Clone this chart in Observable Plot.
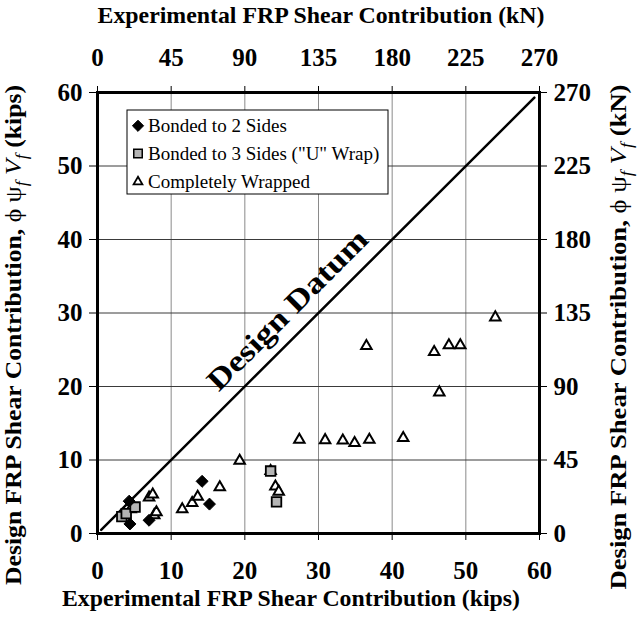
<!DOCTYPE html>
<html>
<head>
<meta charset="utf-8">
<script src="https://cdn.jsdelivr.net/npm/d3@7"></script>
<script src="https://cdn.jsdelivr.net/npm/@observablehq/plot@0.6"></script>
<style>
  body { margin: 0; background: white; }
  #chart svg { display: block; }
</style>
</head>
<body>
<div id="chart"></div>
<script>
// Tick labels
const kipTicks = [0, 10, 20, 30, 40, 50, 60];
const kNTicks = [0, 45, 90, 135, 180, 225, 270];

// Series: experimental (kips) vs design (kips)
const twoSidesExp    = [4.3, 4.4, 7.0, 14.2, 15.2];
const twoSidesDesign = [4.4, 1.3, 1.8, 7.1, 4.0];

const uWrapExp    = [3.3, 3.9, 5.1, 23.5, 24.3];
const uWrapDesign = [2.3, 2.7, 3.6, 8.5, 4.3];

const wrappedExp    = [4.5, 7.0, 7.5, 7.7, 8.0, 11.5, 12.85, 13.6, 16.6, 19.3, 23.5, 24.15, 24.6, 27.4, 30.9, 33.3, 34.9, 36.9, 41.5, 36.5, 45.7, 47.7, 49.25, 46.4, 54.0];
const wrappedDesign = [3.3, 4.9, 5.3, 2.5, 2.9, 3.3, 4.15, 5.0, 6.3, 9.9, 8.5, 6.4, 5.7, 12.75, 12.7, 12.65, 12.3, 12.75, 13.0, 25.5, 24.7, 25.6, 25.6, 19.2, 29.4];

const datumExp = [0.5, 59.3];
const datumLabel = ["Design Datum"];
const datumLabelPos = [25.8, 30.4];

const legendLabels = ["Bonded to 2 Sides", "Bonded to 3 Sides (\"U\" Wrap)", "Completely Wrapped"];

const toRows = (xs, ys) => xs.map((x, i) => ({x, y: ys[i]}));
const twoSides = toRows(twoSidesExp, twoSidesDesign);
const uWrap = toRows(uWrapExp, uWrapDesign);
const wrapped = toRows(wrappedExp, wrappedDesign);
const datum = toRows(datumExp, datumExp);

const serif = "'Liberation Serif', 'Times New Roman', serif";
const inner = kipTicks.slice(1, -1);

const svg = Plot.plot({
  width: 642,
  height: 618,
  marginLeft: 97,
  marginRight: 103,
  marginTop: 92,
  marginBottom: 85,
  style: {fontFamily: serif, background: "white", color: "black"},
  x: {domain: [0, 60], label: null},
  y: {domain: [0, 60], label: null},
  marks: [
    Plot.gridX(inner, {stroke: "#8a8a8a", strokeOpacity: 1, strokeWidth: 1}),
    Plot.gridY(inner, {stroke: "#3a3a3a", strokeOpacity: 1, strokeWidth: 1}),
    Plot.axisX(kipTicks, {anchor: "bottom", tickSize: 7, tickPadding: 21, fontSize: 25, fontWeight: "bold", label: null, strokeWidth: 1}),
    Plot.axisX(kipTicks, {anchor: "top", tickSize: 7, tickPadding: 20, fontSize: 25, fontWeight: "bold", label: null, strokeWidth: 1,
      tickFormat: (d) => String(kNTicks[kipTicks.indexOf(d)])}),
    Plot.axisY(kipTicks, {anchor: "left", tickSize: 8, tickPadding: 7, fontSize: 25, fontWeight: "bold", label: null, strokeWidth: 1}),
    Plot.axisY(kipTicks, {anchor: "right", tickSize: 7, tickPadding: 7, fontSize: 25, fontWeight: "bold", label: null, strokeWidth: 1,
      tickFormat: (d) => String(kNTicks[kipTicks.indexOf(d)])}),
    Plot.line(datum, {x: "x", y: "y", stroke: "black", strokeWidth: 2.5}),
    Plot.text(datumLabel, {x: () => datumLabelPos[0], y: () => datumLabelPos[1], text: d => d, rotate: -45,
      fontSize: 30, fontWeight: "bold", fill: "black", className: "datum-label"}),
    Plot.dot(wrapped, {x: "x", y: "y", symbol: "triangle2", r: 5, fill: "white", stroke: "black", strokeWidth: 2}),
    Plot.dot(uWrap, {x: "x", y: "y", symbol: "square", r: 5.4, fill: "#b5b5b5", stroke: "black", strokeWidth: 1.8}),
    Plot.dot(twoSides, {x: "x", y: "y", symbol: "diamond2", r: 5.4, fill: "black", stroke: "black", strokeWidth: 1}),
    Plot.frame({stroke: "black", strokeWidth: 3})
  ]
});

const s = d3.select(svg);
s.selectAll(".datum-label text").attr("textLength", 214).attr("lengthAdjust", "spacingAndGlyphs");

// Axis titles
function addTitle(x, y, rotate, len, parts) {
  const t = s.append("text")
    .attr("transform", `translate(${x},${y})` + (rotate ? ` rotate(${rotate})` : ""))
    .attr("text-anchor", "middle")
    .attr("font-family", serif)
    .attr("font-size", 23)
    .attr("font-weight", "bold")
    .attr("fill", "black")
    .attr("textLength", len)
    .attr("lengthAdjust", "spacingAndGlyphs");
  for (const p of parts) {
    const ts = t.append("tspan").text(p.t);
    if (p.w) ts.attr("font-weight", p.w);
    if (p.i) ts.attr("font-style", "italic");
    if (p.sub) ts.attr("font-size", 16).attr("dy", 6);
    if (p.up) ts.attr("dy", -6);
  }
  return t;
}
const yParts = (unit) => [
  {t: "Design FRP Shear Contribution, "},
  {t: "\u03D5 \u03C8", w: "normal"},
  {t: "f", w: "normal", i: true, sub: true},
  {t: " V", w: "normal", i: true, up: true},
  {t: "f", w: "normal", i: true, sub: true},
  {t: " (" + unit + ")", up: true}
];
addTitle(291, 606, 0, 458, [{t: "Experimental FRP Shear Contribution (kips)"}]);
addTitle(321, 23, 0, 447, [{t: "Experimental FRP Shear Contribution (kN)"}]);
addTitle(21, 335, -90, 500, yParts("kips"));
addTitle(626, 337, -90, 505, yParts("kN"));

// Legend
const lg = s.append("g");
lg.append("rect").attr("x", 127).attr("y", 110).attr("width", 261).attr("height", 84)
  .attr("fill", "white").attr("stroke", "black").attr("stroke-width", 1);
const legendSymbols = [
  {sym: d3.symbolDiamond2, size: 80, fill: "black", stroke: "black", sw: 1},
  {sym: d3.symbolSquare, size: 72, fill: "#b5b5b5", stroke: "black", sw: 1.5},
  {sym: d3.symbolTriangle2, size: 55, fill: "white", stroke: "black", sw: 1.8}
];
const legendBaselines = [132.3, 160, 188.3];
legendLabels.forEach((label, i) => {
  const base = legendBaselines[i];
  const sym = legendSymbols[i];
  lg.append("path").attr("d", d3.symbol(sym.sym, sym.size)())
    .attr("transform", `translate(138,${base - 6.5})`)
    .attr("fill", sym.fill).attr("stroke", sym.stroke).attr("stroke-width", sym.sw);
  lg.append("text").attr("x", 148).attr("y", base)
    .attr("text-anchor", "start")
    .attr("font-family", serif).attr("font-size", 19).attr("fill", "black").text(label);
});

document.getElementById("chart").appendChild(svg);
</script>
</body>
</html>
